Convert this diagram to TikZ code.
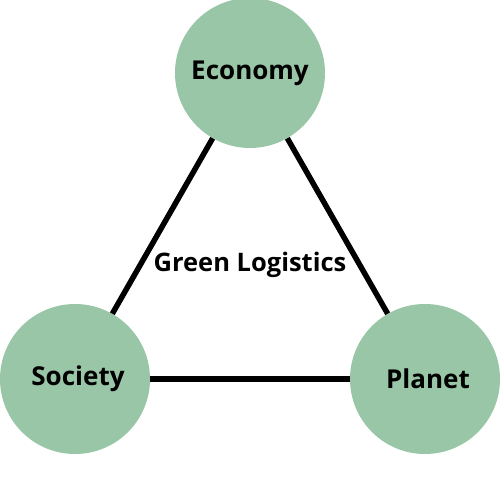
\documentclass[tikz,border=0pt]{standalone}
\usepackage{fontspec}
\setmainfont{Open Sans}
\definecolor{leaf}{HTML}{98C6A6}
\begin{document}
\begin{tikzpicture}[x=1pt,y=-1pt,
  hub/.style={circle,fill=leaf,minimum size=150pt,inner sep=0pt,font=\fontsize{26}{30}\selectfont\bfseries},
  link/.style={line width=5.5pt,black}]
\useasboundingbox (0,0) rectangle (500,500);
\node[hub] (eco) at (250,73) {Economy};
\node[hub] (soc) at (75,379) {\hspace{6pt}Society};
\node[hub] (pla) at (425,379) {\hspace{6pt}Planet};
\draw[link] (eco) -- (soc);
\draw[link] (eco) -- (pla);
\draw[link] (soc) -- (pla);
\node[font=\fontsize{25.5}{30}\selectfont\bfseries] (gl) at (250,265) {Green Logistics};
\end{tikzpicture}
\end{document}
